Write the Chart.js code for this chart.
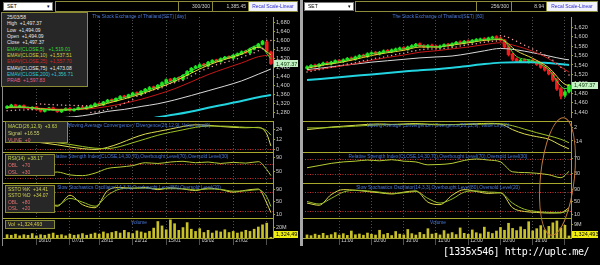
<!DOCTYPE html>
<html>
<head>
<meta charset="utf-8">
<script src="https://cdn.jsdelivr.net/npm/chart.js@4.4.1/dist/chart.umd.min.js"></script>
<style>
  body { margin: 0; width: 600px; height: 265px; background: #000; position: relative; overflow: hidden; font-family: "Liberation Sans", Arial, sans-serif; }
  canvas { position: absolute; }
  .a { position: absolute; white-space: nowrap; }
  .title { position: absolute; color: #4a78d8; font-size: 4.8px; line-height: 6px; white-space: nowrap; transform: translateX(-50%); }
  .box { position: absolute; background: #272727; border: 1px solid #8c8c34; box-sizing: border-box; padding: 1px 0 0 2px; }
  .box div { font-size: 4.9px; white-space: nowrap; }
  .sel { position: absolute; top: 2px; width: 50px; height: 9px; background: #fff; border: 1px solid #777; box-sizing: border-box; font-size: 5px; line-height: 7px; padding-left: 3px; color: #000; }
  .sel span { position: absolute; right: 2px; top: 0; font-size: 4.5px; }
  .bar { position: absolute; top: 1px; height: 11px; width: 243px; border: 1px solid #8c8c3a; box-sizing: border-box; background: #000; }
  .sep { position: absolute; top: 0; width: 1px; height: 9px; background: #8c8c3a; }
  .num { position: absolute; top: 1px; font-size: 5px; line-height: 7px; color: #d0d0d0; text-align: right; }
  .recal { position: absolute; top: 0; height: 9px; background: #f2f2fa; color: #2a2ad0; font-size: 4.9px; line-height: 9px; text-align: center; }
  .hl { position: absolute; height: 1px; background: #a8a82c; }
</style>
</head>
<body>
<div id="charts"></div>

<div class="a" style="left:2px;top:12px;width:1px;height:234px;background:#8c8c8c"></div>
<div class="a" style="left:300px;top:0;width:3px;height:246px;background:#a8a8a8"></div>

<div class="sel" style="left:3px">SET<span>▾</span></div>
<div class="bar" style="left:55px">
  <div class="sep" style="left:122px"></div><div class="sep" style="left:156px"></div><div class="sep" style="left:192px"></div>
  <div class="num" style="left:122px;width:32px">300/300</div>
  <div class="num" style="left:156px;width:34px">1,385.45</div>
  <div class="recal" style="left:193px;width:48px">Recal Scale-Linear</div>
</div>
<div class="sel" style="left:304px">SET<span>▾</span></div>
<div class="bar" style="left:355px">
  <div class="sep" style="left:120px"></div><div class="sep" style="left:155px"></div><div class="sep" style="left:190px"></div>
  <div class="num" style="left:120px;width:33px">256/300</div>
  <div class="num" style="left:155px;width:33px">8.94</div>
  <div class="recal" style="left:191px;width:50px">Recal Scale-Linear</div>
</div>

<div id="titles"></div>

<div class="box" style="left:1px;top:12px;width:87px;height:75px;padding:2px 0 0 5px">
  <div style="line-height:6.35px;color:#e8e8e8">25/03/58</div>
  <div style="line-height:6.35px;color:#e8e8e8">High&nbsp;&nbsp;+1,497.37</div>
  <div style="line-height:6.35px;color:#e8e8e8">Low&nbsp;&nbsp;+1,494.09</div>
  <div style="line-height:6.35px;color:#e8e8e8">Open&nbsp;&nbsp;+1,494.09</div>
  <div style="line-height:6.35px;color:#e8e8e8">Close&nbsp;&nbsp;+1,497.37</div>
  <div style="line-height:6.35px;color:#38d838">EMAV(CLOSE,5)&nbsp;&nbsp;&nbsp;+1,519.01</div>
  <div style="line-height:6.35px;color:#d8d040">EMAV(CLOSE,10)&nbsp;&nbsp;+1,537.51</div>
  <div style="line-height:6.35px;color:#d02828">EMAV(CLOSE,25)&nbsp;&nbsp;+1,557.70</div>
  <div style="line-height:6.35px;color:#e8e8e8">EMAV(CLOSE,75)&nbsp;&nbsp;+1,473.08</div>
  <div style="line-height:6.35px;color:#30c8d0">EMAV(CLOSE,200)&nbsp;+1,356.71</div>
  <div style="line-height:6.35px;color:#e06090">PRAB&nbsp;&nbsp;+1,597.83</div>
</div>
<div class="box" style="left:5px;top:121px;width:63px;height:22px">
  <div style="line-height:7px;color:#c8d850">MACD(26,12,9)&nbsp;&nbsp;+3.63</div>
  <div style="line-height:7px;color:#d0d070">Signal&nbsp;&nbsp;+16.55</div>
  <div style="line-height:7px;color:#e07070">VLINE&nbsp;&nbsp;+0</div>
</div>
<div class="box" style="left:5px;top:154px;width:50px;height:22px">
  <div style="line-height:6.8px;color:#c8d850">RSI(14)&nbsp;&nbsp;+38.17</div>
  <div style="line-height:6.8px;color:#e07070">OBL&nbsp;&nbsp;&nbsp;+70</div>
  <div style="line-height:6.8px;color:#e07070">OSL&nbsp;&nbsp;&nbsp;+30</div>
</div>
<div class="box" style="left:5px;top:185px;width:50px;height:28px">
  <div style="line-height:6.3px;color:#d0d050">SSTO %K&nbsp;&nbsp;+14.41</div>
  <div style="line-height:6.3px;color:#d0d050">SSTO %D&nbsp;&nbsp;+34.07</div>
  <div style="line-height:6.3px;color:#e07070">OBL&nbsp;&nbsp;&nbsp;+80</div>
  <div style="line-height:6.3px;color:#e07070">OSL&nbsp;&nbsp;&nbsp;+20</div>
</div>
<div class="box" style="left:5px;top:220px;width:50px;height:9px">
  <div style="line-height:6px;color:#d8d040">Vol&nbsp;&nbsp;+1,324,493</div>
</div>

<div class="a" style="left:540px;top:117px;width:33px;height:117px;border:1px solid #c47a3a;border-radius:50%;transform:rotate(6deg)"></div>
<div class="a" style="left:443px;top:246px;font-family:'DejaVu Sans Mono',monospace;font-size:10px;line-height:12px;letter-spacing:-0.4px;color:#fff">[1335x546] http://uplc.me/</div>

<script>
// ---------- left: SET daily ----------
const leftOpen = [1299,1305,1313,1303,1310,1301,1295,1303,1293,1284,
  1293,1300,1291,1282,1290,1298,1288,1293,1303,1295,
  1303,1309,1320,1313,1325,1337,1331,1341,1353,1346,
  1357,1368,1360,1373,1382,1394,1387,1400,1411,1428,
  1418,1435,1427,1445,1461,1478,1483,1495,1487,1502,
  1514,1506,1518,1529,1521,1533,1540,1554,1545,1561,
  1570,1583,1594,1549];
const leftHigh = [1310,1316,1316,1312,1313,1304,1305,1306,1296,1297,
  1302,1303,1294,1294,1300,1301,1297,1304,1306,1307,
  1313,1322,1323,1329,1338,1340,1345,1354,1356,1361,
  1370,1371,1377,1387,1395,1397,1404,1416,1429,1431,
  1435,1438,1448,1466,1480,1489,1497,1498,1507,1515,
  1517,1523,1530,1532,1538,1545,1554,1557,1566,1575,
  1588,1601,1598,1553];
const leftLow = [1296,1302,1301,1300,1297,1292,1292,1289,1281,1281,
  1290,1287,1279,1279,1287,1285,1285,1290,1293,1292,
  1300,1306,1311,1310,1322,1327,1328,1338,1344,1343,
  1354,1358,1357,1370,1379,1383,1384,1397,1408,1416,
  1415,1425,1424,1442,1458,1475,1480,1485,1484,1499,
  1504,1503,1515,1519,1518,1530,1537,1543,1542,1558,
  1567,1580,1548,1494];
const leftClose = [1306,1312,1304,1309,1300,1296,1302,1292,1285,1294,
  1299,1290,1283,1291,1297,1289,1294,1301,1296,1304,
  1310,1318,1314,1326,1334,1330,1342,1350,1347,1358,
  1366,1361,1374,1383,1390,1386,1401,1412,1425,1419,
  1431,1428,1444,1462,1476,1484,1492,1488,1503,1511,
  1507,1519,1526,1522,1534,1541,1550,1546,1562,1571,
  1584,1596,1552,1497.37];
const leftSar = [1287,1288,1289,1290,1290,1291,1291,
  1318,1317,1316,1315,1314,1313,1312,1311,1311,1310,1310,1309,1309,
  1279,1281,1284,1288,1293,1299,1305,1312,1320,1328,1336,
  1351,1356,1365,1373,1380,1383,1390,1400,1408,1412,
  1420,1422,1433,1442,1452,1462,1470,1476,1484,1492,
  1497,1502,1508,1513,1519,1526,1532,1538,1546,1554,
  1563,1601,1600];
const leftLineIdx = [0,4,8,12,16,20,24,28,32,36,40,44,48,52,56,60,63];
const leftEma5   = [1304,1303,1293,1289,1293,1305,1328,1346,1368,1395,1425,1466,1497,1522,1545,1578,1519];
const leftEma10  = [1302,1303,1296,1291,1292,1301,1320,1340,1362,1388,1418,1455,1490,1516,1539,1570,1537];
const leftEma25  = [1300,1300,1298,1294,1293,1296,1306,1320,1338,1360,1385,1416,1448,1475,1500,1528,1536];
const leftEma75  = [1245,1248,1251,1255,1260,1270,1284,1293,1306,1318,1335,1355,1376,1397,1420,1450,1473];
const leftEma200 = [1200,1205,1210,1215,1220,1225,1230,1236,1244,1258,1270,1284,1300,1315,1330,1347,1357];
const leftOscIdx = [0,3,6,9,12,15,18,21,24,27,30,33,36,39,42,45,48,51,54,57,60,62,63];
const leftMacd   = [12,11,9,7,5,2.5,0.5,-0.5,2,7,13,18,21,24,27,29,28.5,27,26,25.5,26,18,3.63];
const leftSignal = [14,13,11.5,9.5,7.5,5.5,3,1,0.5,3,7.5,12,16.5,20,23,26,27.5,27.5,27,26,25.5,22,16.55];
const leftRsi    = [45,48,44,46,48,40,38,45,58,62,66,74,72,76,78,74,76,72,75,73,77,55,38.17];
const leftStoK   = [55,40,30,45,35,70,40,30,85,95,92,95,88,94,90,85,93,88,80,86,90,45,14.41];
const leftStoD   = [58,45,35,40,38,60,48,35,70,90,93,93,91,91,91,87,90,89,83,84,88,65,34.07];
const leftVolume = [6,5,7,4,6,5,8,4,6,5,7,9,5,6,4,7,5,6,8,5,7,
  9,7,11,8,10,12,9,14,10,8,13,11,9,
  12,18,30,22,15,33,26,14,19,28,16,
  12,17,10,14,9,13,11,15,10,12,9,
  11,14,12,16,20,24,27,1.324493];
const leftTickIdx = [7,15,22,30,38,46,54,62];
const leftTickLabels = ['16/10','07/11','28/11','21/12','15/01','05/02','27/02',''];
const leftPriceTicks = [1680,1640,1600,1560,1520,1480,1440,1400,1360,1320,1280];
const leftMacdTicks = [24,18,12,6,0];
const leftRsiTicks = [90,70,50,30];
const leftVolTicks = [20];

// ---------- right: SET 60 min ----------
const rightOpen = [1533,1536,1540,1537,1541,1545,1542,1546,1550,1547,
  1551,1555,1552,1557,1561,1558,1564,1567,1563,1567,
  1571,1568,1572,1574,1577,1573,1578,1581,1585,1581,
  1578,1582,1580,1577,1580,1584,1581,1585,1589,1586,
  1591,1588,1592,1594,1596,1593,1597,1600,1597,1593,
  1579,1563,1553,1547,1551,1546,1550,1547,1542,1536,
  1530,1522,1509,1490,1476,1484];
const rightHigh = [1538,1541,1542,1543,1546,1547,1548,1551,1552,1553,
  1556,1557,1559,1562,1563,1566,1568,1569,1569,1572,
  1573,1574,1576,1578,1579,1580,1583,1586,1587,1583,
  1583,1584,1582,1582,1585,1586,1587,1590,1591,1592,
  1593,1594,1596,1597,1598,1599,1601,1602,1599,1594,
  1581,1565,1555,1552,1553,1551,1552,1549,1544,1538,
  1532,1524,1511,1492,1486,1499];
const rightLow = [1531,1534,1535,1535,1539,1540,1540,1544,1545,1545,
  1549,1550,1550,1555,1556,1556,1562,1561,1561,1565,
  1566,1566,1570,1572,1571,1571,1576,1579,1578,1576,
  1576,1577,1575,1575,1578,1579,1579,1583,1584,1584,
  1586,1586,1590,1592,1591,1591,1595,1594,1590,1575,
  1559,1549,1545,1545,1545,1544,1544,1539,1533,1527,
  1519,1505,1486,1468,1472,1481];
const rightClose = [1536,1539,1537,1541,1544,1542,1546,1549,1547,1551,
  1554,1552,1557,1560,1558,1564,1566,1563,1567,1570,
  1568,1572,1574,1576,1573,1578,1581,1584,1580,1578,
  1581,1579,1577,1580,1583,1581,1585,1588,1586,1590,
  1588,1592,1594,1595,1593,1597,1599,1596,1592,1578,
  1562,1552,1548,1550,1547,1549,1546,1541,1535,1529,
  1521,1508,1489,1474,1483,1497.37];
const rightSar = [1525,1527,1529,1530,1532,1534,1535,1537,1539,1540,
  1542,1543,1545,1547,1549,1550,1552,1554,1555,1557,
  1559,1560,1562,1564,1565,1567,1569,1570,1572,1573,
  1574,1574,1574,1574,1575,1576,1577,1578,1580,1581,
  1583,1584,1585,1587,1588,1589,1590,1591,
  1602,1601,1598,1594,1590,1586,1582,1578,1574,1570,1566,1561,1556,1550,1543,1535,1527,1519];
const rightLineIdx = [0,4,8,12,16,20,24,28,32,36,40,44,48,52,56,60,64,65];
const rightEma5   = [1535,1542,1547,1555,1564,1568,1574,1581,1578,1584,1589,1594,1595,1558,1549,1530,1490,1492];
const rightEma10  = [1533,1540,1545,1552,1560,1566,1571,1578,1578,1582,1587,1592,1594,1570,1554,1534,1499,1497];
const rightEma25  = [1528,1532,1537,1543,1550,1556,1561,1567,1570,1574,1578,1583,1587,1580,1569,1553,1530,1525];
const rightEma75  = [1530,1534,1538,1542,1546,1549,1552,1555,1557,1559,1564,1570,1575,1572,1566,1559,1552,1551];
const rightEma200 = [1508,1511,1514,1517,1520,1523,1526,1529,1531,1534,1538,1542,1545,1546,1546,1544,1541,1540];
const rightOscIdx = [0,3,6,9,12,15,18,21,24,27,30,33,36,39,42,45,48,51,54,57,60,63,65];
const rightMacd   = [-1,0.5,2,3,4,5,5.5,5,5.5,6,5,4.5,4.8,5.2,5.8,6.2,5.5,-1,-6,-9,-12,-19,-23];
const rightSignal = [1,1,1.5,2.2,3,3.8,4.5,4.8,5,5.3,5.3,5,4.8,4.9,5.1,5.5,5.7,3.5,-0.5,-4.5,-8,-12,-16];
const rightRsi    = [46,52,58,62,64,67,65,68,64,62,54,55,58,66,70,67,62,35,33,31,27,19,36];
const rightStoK   = [45,38,72,88,86,82,78,74,80,84,48,40,70,88,82,76,78,30,18,15,13,14,30];
const rightStoD   = [50,42,60,80,86,84,80,76,78,82,60,45,58,80,84,80,78,45,25,18,15,14,22];
const rightVolume = [2.0,1.5,2.5,1.8,3.0,1.6,2.2,3.5,1.9,2.8,1.7,4.5,2.1,2.6,1.8,3.2,
  2.4,1.9,5.0,2.2,3.0,1.6,4.2,2.5,2.0,5.5,2.8,1.9,3.6,2.3,6.0,2.5,
  3.1,2.0,4.8,2.6,3.5,2.2,6.5,3.0,2.4,5.2,3.4,2.7,7.0,3.8,2.9,4.5,
  6.8,5.0,9.5,6.2,4.8,7.2,5.5,10.5,4.6,6.0,8.0,5.2,7.5,9.8,11.0,6.5,8.2,1.324493];
const rightTickIdx = [8,16,24,32,40,48,56,64];
const rightTickLabels = ['11:00','10:00','10:00','11:00','12:00','10:00','16:00',''];
const rightPriceTicks = [1620,1600,1580,1560,1540,1520,1500,1480,1460,1440];
const rightMacdTicks = [2,-6,-14,-22];
const rightRsiTicks = [70,50,30,10];
const rightVolTicks = [9];

const stoTicks = [90,70,50,30,10];
const macdLevels = [0];
const rsiLevels = [70, 30];
const stoLevels = [80, 20];

const FONT = '"Liberation Sans", Arial, sans-serif';
const OLIVE = '#a0a02c';
const UP = '#1ee81e';
const DOWN = '#f01c1c';
const emaColors = ['#34e034', '#e4dc38', '#c81818', '#d8d8d8', '#22d4e0'];
const emaWidths = [1, 1, 1, 1, 2];

// panel rows: [top, height]
const rows = { price: [13, 108], macd: [121, 31], rsi: [152, 31], sto: [183, 35], vol: [218, 28] };

const levelsPlugin = {
  id: 'levels',
  beforeDatasetsDraw(chart, args, opts) {
    if (!opts.values) return;
    const { ctx, chartArea: a, scales: { y } } = chart;
    ctx.save();
    ctx.strokeStyle = '#c83030';
    ctx.lineWidth = 1;
    ctx.setLineDash([1, 1.5]);
    opts.values.forEach(v => {
      const py = Math.round(y.getPixelForValue(v)) + 0.5;
      ctx.beginPath(); ctx.moveTo(a.left, py); ctx.lineTo(a.right, py); ctx.stroke();
    });
    ctx.restore();
  }
};

const tagPlugin = {
  id: 'tag',
  afterDraw(chart, args, opts) {
    if (opts.value == null) return;
    const { ctx, chartArea: a, scales: { y } } = chart;
    let py = y.getPixelForValue(opts.value);
    py = Math.min(Math.max(py, a.top + 4), a.bottom - 4);
    ctx.save();
    ctx.fillStyle = opts.bg;
    ctx.fillRect(a.right + 1, Math.round(py - 3.5), opts.w, 7);
    ctx.fillStyle = opts.color;
    ctx.font = '5.5px ' + FONT;
    ctx.textBaseline = 'middle';
    ctx.fillText(opts.text, a.right + 3, py + 0.5);
    ctx.restore();
  }
};

function addCanvas(left, top, w, h) {
  const c = document.createElement('canvas');
  c.width = w; c.height = h;
  c.style.left = left + 'px';
  c.style.top = top + 'px';
  document.getElementById('charts').appendChild(c);
  return c;
}

const pts = (idx, vals) => idx.map((x, k) => ({ x, y: vals[k] }));
const line = (data, color, width) => ({
  type: 'line', data, borderColor: color, borderWidth: width, pointRadius: 0,
  cubicInterpolationMode: 'monotone', order: 1
});

function panel(h, row, datasets, y) {
  const [top, height] = rows[row];
  const showX = row === 'vol';
  return new Chart(addCanvas(h.ox, top, 300, height), {
    type: 'bar',
    data: { labels: h.close.map((_, i) => i), datasets },
    options: {
      responsive: false, animation: false, events: [],
      layout: { padding: { left: h.plotL, right: 0, top: 0, bottom: 0 } },
      plugins: {
        legend: { display: false }, tooltip: { enabled: false },
        levels: { values: y.levels }, tag: y.tag || {}
      },
      scales: {
        x: {
          type: 'category', offset: true,
          afterBuildTicks: s => { s.ticks = h.tickIdx.map(v => ({ value: v })); },
          afterFit: s => { s.height = showX ? 8 : 0; },
          grid: { offset: false, color: '#505050', drawTicks: showX, tickLength: 7 },
          border: { display: false, dash: [1, 2] },
          ticks: {
            display: showX, autoSkip: false, maxRotation: 0, minRotation: 0,
            align: 'start', padding: -7, labelOffset: 2, color: '#d4d4d4',
            font: { family: FONT, size: 5 },
            callback: (v, i) => h.tickLabels[i]
          }
        },
        y: {
          type: 'linear', position: 'right', min: y.min, max: y.max,
          afterBuildTicks: s => { s.ticks = y.ticks.map(v => ({ value: v })); },
          afterFit: s => { s.width = h.axisW; s.paddingTop = 0; s.paddingBottom = 0; },
          grid: { drawOnChartArea: false, drawTicks: true, tickLength: 2, color: OLIVE },
          border: { display: true, color: OLIVE },
          ticks: {
            padding: 1, color: '#cfcfcf', font: { family: FONT, size: 5.5 },
            callback: y.fmt || (v => v.toLocaleString('en-US'))
          }
        }
      }
    },
    plugins: [levelsPlugin, tagPlugin]
  });
}

function buildHalf(h) {
  const colors = h.close.map((c, i) => (c >= h.open[i] ? UP : DOWN));
  const last = h.close[h.close.length - 1];
  const lastVol = h.volume[h.volume.length - 1];

  panel(h, 'price', [
    ...h.ema.map((arr, k) => line(pts(h.lineIdx, arr), emaColors[k], emaWidths[k])),
    { type: 'line', data: h.sar, showLine: false, pointRadius: 0.75, pointBorderWidth: 0,
      pointBackgroundColor: '#f0a4a4', order: 0 },
    { type: 'bar', data: h.open.map((o, i) => [o, h.close[i]]), backgroundColor: colors,
      barThickness: 3, grouped: false, order: 5 },
    { type: 'bar', data: h.low.map((l, i) => [l, h.high[i]]), backgroundColor: colors,
      barThickness: 1, grouped: false, order: 6 }
  ], { min: h.priceMin, max: h.priceMax, ticks: h.priceTicks,
       tag: { value: last, bg: '#c4f2c4', color: '#0a3a0a', w: h.axisW - 3,
              text: last.toLocaleString('en-US', { minimumFractionDigits: 2 }) } });

  panel(h, 'macd', [
    line(pts(h.oscIdx, h.signal), '#9cc224', 1),
    line(pts(h.oscIdx, h.macd), '#dcdc50', 1)
  ], { min: h.macdMin, max: h.macdMax, ticks: h.macdTicks, levels: h.macdLevels });

  panel(h, 'rsi', [
    line(pts(h.oscIdx, h.rsi), '#b8cc34', 1)
  ], { min: h.rsiMin, max: h.rsiMax, ticks: h.rsiTicks, levels: rsiLevels });

  panel(h, 'sto', [
    line(pts(h.oscIdx, h.stoD), '#98bc28', 1),
    line(pts(h.oscIdx, h.stoK), '#dcd848', 1)
  ], { min: -2.8, max: 109.2, ticks: stoTicks, levels: stoLevels });

  panel(h, 'vol', [
    { type: 'bar', data: h.volume, backgroundColor: '#c8c028', barThickness: 2 }
  ], { min: 0, max: h.volMax, ticks: h.volTicks, fmt: v => v + 'M',
       tag: { value: lastVol, bg: '#f0ee10', color: '#000', w: h.axisW - 3,
              text: Math.round(lastVol * 1e6).toLocaleString('en-US') } });

  // titles and panel borders
  const titles = document.getElementById('titles');
  const cx = h.ox + h.plotL + (300 - h.axisW - h.plotL) / 2;
  [['The Stock Exchange of Thailand(SET) ' + h.tf, 14],
   ['Moving Average Convergence / Divergence(26,12,9), Value Line(0)', 122.5],
   ['Relative Strength Index(CLOSE,14,30,70),Overbought Level(70),Oversold Level(30)', 153.5],
   ['Slow Stochastics Oscillator(14,3,3),Overbought Level(80),Oversold Level(20)', 184.5],
   ['Volume', 220]].forEach(([text, top]) => {
    const d = document.createElement('div');
    d.className = 'title';
    d.textContent = text;
    d.style.left = cx + 'px';
    d.style.top = top + 'px';
    titles.appendChild(d);
  });
  [121, 152, 183, 218, 238].forEach(top => {
    const d = document.createElement('div');
    d.className = 'hl';
    d.style.left = (h.ox + 3) + 'px';
    d.style.top = top + 'px';
    d.style.width = (300 - h.axisW - 2) + 'px';
    document.getElementById('charts').appendChild(d);
  });
}

buildHalf({
  ox: 0, plotL: 5, axisW: 27, tf: '[day]',
  open: leftOpen, high: leftHigh, low: leftLow, close: leftClose, sar: leftSar,
  lineIdx: leftLineIdx, ema: [leftEma5, leftEma10, leftEma25, leftEma75, leftEma200],
  oscIdx: leftOscIdx, macd: leftMacd, signal: leftSignal, rsi: leftRsi,
  stoK: leftStoK, stoD: leftStoD, volume: leftVolume,
  tickIdx: leftTickIdx, tickLabels: leftTickLabels,
  priceMin: 1259, priceMax: 1705, priceTicks: leftPriceTicks,
  macdMin: -3.6, macdMax: 33.6, macdTicks: leftMacdTicks, macdLevels: macdLevels,
  rsiMin: 17.4, rsiMax: 104, rsiTicks: leftRsiTicks,
  volMax: 36.4, volTicks: leftVolTicks
});

buildHalf({
  ox: 300, plotL: 5, axisW: 29, tf: '[60]',
  open: rightOpen, high: rightHigh, low: rightLow, close: rightClose, sar: rightSar,
  lineIdx: rightLineIdx, ema: [rightEma5, rightEma10, rightEma25, rightEma75, rightEma200],
  oscIdx: rightOscIdx, macd: rightMacd, signal: rightSignal, rsi: rightRsi,
  stoK: rightStoK, stoD: rightStoD, volume: rightVolume,
  tickIdx: rightTickIdx, tickLabels: rightTickLabels,
  priceMin: 1430, priceMax: 1641.5, priceTicks: rightPriceTicks,
  macdMin: -26.6, macdMax: 8.9, macdTicks: rightMacdTicks, macdLevels: [],
  rsiMin: 4.5, rsiMax: 89, rsiTicks: rightRsiTicks,
  volMax: 12.9, volTicks: rightVolTicks
});
</script>
</body>
</html>
